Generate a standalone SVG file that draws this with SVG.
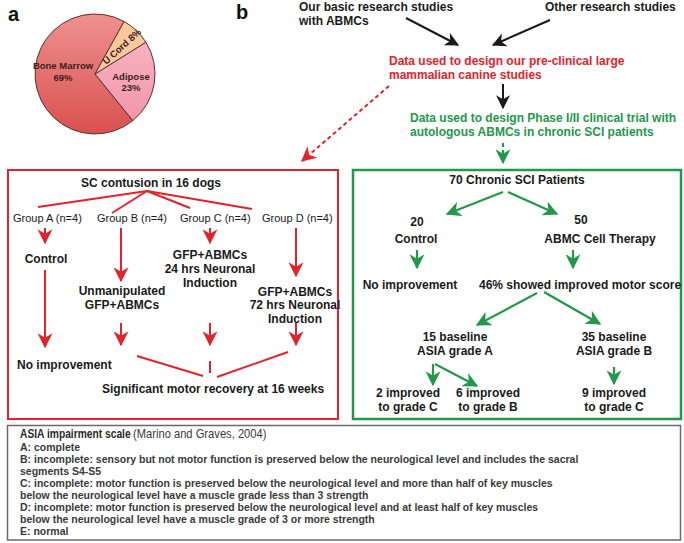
<svg xmlns="http://www.w3.org/2000/svg" width="684" height="543" viewBox="0 0 684 543">
<defs>
<linearGradient id="gMarrow" x1="0" y1="0" x2="0" y2="1">
<stop offset="0" stop-color="#ef9090"/>
<stop offset="1" stop-color="#d9514f"/>
</linearGradient>
<linearGradient id="gAdipose" x1="0" y1="0" x2="0" y2="1">
<stop offset="0" stop-color="#f7b2c0"/>
<stop offset="1" stop-color="#f297a8"/>
</linearGradient>
<marker id="mBlack" viewBox="0 0 12 12" markerUnits="userSpaceOnUse" markerWidth="14" markerHeight="14" refX="11" refY="6" orient="auto">
<path d="M0,0 L12,6 L0,12 L3.5,6 Z" fill="#1a1a1a"/>
</marker>
<marker id="mRed" viewBox="0 0 12 12" markerUnits="userSpaceOnUse" markerWidth="15" markerHeight="15" refX="11" refY="6" orient="auto">
<path d="M0,0 L12,6 L0,12 L3.5,6 Z" fill="#e3232b"/>
</marker>
<marker id="mGreen" viewBox="0 0 12 12" markerUnits="userSpaceOnUse" markerWidth="15" markerHeight="15" refX="11" refY="6" orient="auto">
<path d="M0,0 L12,6 L0,12 L3.5,6 Z" fill="#23984a"/>
</marker>
</defs>
<style>
text{font-family:"Liberation Sans",Arial,sans-serif;}
.b{font-weight:bold;font-size:12px;fill:#1a1a1a;}
.r{font-size:11px;fill:#1a1a1a;}
.red{font-weight:bold;font-size:12px;fill:#e3232b;}
.grn{font-weight:bold;font-size:12px;fill:#23984a;}
.m{text-anchor:middle;}
.pl{font-weight:bold;font-size:9.5px;fill:#3b1f1f;}
.bt{font-weight:bold;font-size:10.5px;fill:#3a3a3a;}
.lr{stroke:#e3232b;stroke-width:2;fill:none;}
.lg{stroke:#23984a;stroke-width:2.2;fill:none;}
.lk{stroke:#1a1a1a;stroke-width:2;fill:none;}
</style>

<g id="panel-a">
<text x="8" y="21" style="font-weight:bold;font-size:20px;fill:#111;">a</text>
<path d="M95,74 L132.8,120.6 A60,60 0 1,1 124.1,21.5 Z" fill="url(#gMarrow)" stroke="#5a3030" stroke-width="1"/>
<path d="M95,74 L145.9,42.2 A60,60 0 0,1 132.8,120.6 Z" fill="url(#gAdipose)" stroke="#5a3030" stroke-width="1"/>
<path d="M95,74 L124.1,21.5 A60,60 0 0,1 145.9,42.2 Z" fill="#f9c99c" stroke="#5a3030" stroke-width="1"/>
<text class="pl m" x="63" y="69">Bone Marrow</text>
<text class="pl m" x="63" y="81">69%</text>
<text class="pl m" x="131" y="80">Adipose</text>
<text class="pl m" x="131" y="91">23%</text>
<text class="pl m" x="0" y="0" transform="translate(124,49) rotate(-42)">U Cord 8%</text>
</g>

<g id="panel-b-header">
<text x="236" y="19" style="font-weight:bold;font-size:20px;fill:#111;">b</text>
<g id="basic-studies">
<text class="b" x="299" y="11">Our basic research studies</text>
<text class="b" x="299" y="25">with ABMCs</text>
</g>
<g id="other-studies">
<text class="b" x="545" y="11">Other research studies</text>
</g>
<g id="canine-design">
<text class="red" x="389" y="65">Data used to design our pre-clinical large</text>
<text class="red" x="389" y="79">mammalian canine studies</text>
</g>
<g id="clinical-design">
<text class="grn" x="410" y="122">Data used to design Phase I/II clinical trial with</text>
<text class="grn" x="410" y="136">autologous ABMCs in chronic SCI patients</text>
</g>
</g>

<g id="connectors">
<line class="lk" x1="406" y1="18" x2="458" y2="45" marker-end="url(#mBlack)"/>
<line class="lk" x1="550" y1="20" x2="493" y2="45" marker-end="url(#mBlack)"/>
<line class="lk" x1="503" y1="84" x2="503" y2="108" marker-end="url(#mBlack)"/>
<line class="lr" x1="389" y1="86" x2="302" y2="161" stroke-dasharray="4 3" marker-end="url(#mRed)"/>
<line class="lg" x1="503" y1="143" x2="503" y2="163" stroke-dasharray="4 3" marker-end="url(#mGreen)"/>

<line class="lr" x1="147" y1="191" x2="38" y2="207"/>
<line class="lr" x1="147" y1="191" x2="112" y2="213"/>
<line class="lr" x1="147" y1="191" x2="190" y2="208"/>
<line class="lr" x1="147" y1="191" x2="252" y2="209"/>
<line class="lr" x1="45" y1="228" x2="45" y2="243" marker-end="url(#mRed)"/>
<line class="lr" x1="45" y1="270" x2="45" y2="347" marker-end="url(#mRed)"/>
<line class="lr" x1="121" y1="228" x2="121" y2="281" marker-end="url(#mRed)"/>
<line class="lr" x1="210" y1="228" x2="210" y2="243" marker-end="url(#mRed)"/>
<line class="lr" x1="296" y1="228" x2="296" y2="276" marker-end="url(#mRed)"/>
<line class="lr" x1="121" y1="323" x2="121" y2="345" marker-end="url(#mRed)"/>
<line class="lr" x1="210" y1="323" x2="210" y2="345" marker-end="url(#mRed)"/>
<line class="lr" x1="296" y1="322" x2="296" y2="345" marker-end="url(#mRed)"/>
<line class="lr" x1="137" y1="356" x2="203" y2="376"/>
<line class="lr" x1="210" y1="361" x2="210" y2="373"/>
<line class="lr" x1="288" y1="352" x2="217" y2="377"/>

<line class="lg" x1="503" y1="192" x2="447" y2="214" marker-end="url(#mGreen)"/>
<line class="lg" x1="508" y1="192" x2="557" y2="214" marker-end="url(#mGreen)"/>
<line class="lg" x1="417" y1="250" x2="417" y2="268" marker-end="url(#mGreen)"/>
<line class="lg" x1="573" y1="250" x2="573" y2="268" marker-end="url(#mGreen)"/>
<line class="lg" x1="537" y1="293" x2="477" y2="325" marker-end="url(#mGreen)"/>
<line class="lg" x1="544" y1="292" x2="600" y2="324" marker-end="url(#mGreen)"/>
<line class="lg" x1="433" y1="364" x2="433" y2="385" marker-end="url(#mGreen)"/>
<line class="lg" x1="435" y1="364" x2="477" y2="386" marker-end="url(#mGreen)"/>
<line class="lg" x1="614" y1="367" x2="614" y2="384" marker-end="url(#mGreen)"/>
</g>

<g id="canine-box">
<rect x="8" y="170" width="330" height="249" fill="none" stroke="#e3232b" stroke-width="2"/>
<g id="sc-contusion"><text class="b m" x="151" y="187">SC contusion in 16 dogs</text></g>
<g id="group-a"><text class="r" x="13" y="222">Group A (n=4)</text></g>
<g id="group-b"><text class="r" x="97" y="222">Group B (n=4)</text></g>
<g id="group-c"><text class="r" x="180" y="222">Group C (n=4)</text></g>
<g id="group-d"><text class="r" x="262" y="222">Group D (n=4)</text></g>
<g id="control-a"><text class="b m" x="46" y="263">Control</text></g>
<g id="unmanipulated"><text class="b m" x="122" y="295">Unmanipulated</text><text class="b m" x="122" y="309">GFP+ABMCs</text></g>
<g id="gfp-24"><text class="b m" x="210" y="259">GFP+ABMCs</text><text class="b m" x="210" y="273">24 hrs Neuronal</text><text class="b m" x="210" y="287">Induction</text></g>
<g id="gfp-72"><text class="b m" x="295" y="296">GFP+ABMCs</text><text class="b m" x="295" y="309">72 hrs Neuronal</text><text class="b m" x="295" y="323">Induction</text></g>
<g id="no-improvement-a"><text class="b" x="17" y="369">No improvement</text></g>
<g id="significant"><text class="b" x="102" y="393">Significant motor recovery at 16 weeks</text></g>
</g>

<g id="clinical-box">
<rect x="353" y="170" width="328" height="249" fill="none" stroke="#23984a" stroke-width="2.5"/>
<g id="patients70"><text class="b m" x="517" y="184">70 Chronic SCI Patients</text></g>
<g id="control20"><text class="b m" x="417" y="226">20</text><text class="b m" x="416" y="243">Control</text></g>
<g id="therapy50"><text class="b m" x="581" y="224">50</text><text class="b m" x="600" y="243">ABMC Cell Therapy</text></g>
<g id="no-improvement-c"><text class="b m" x="410" y="289">No improvement</text></g>
<g id="improved46"><text class="b" x="479" y="289">46% showed improved motor score</text></g>
<g id="grade-a15"><text class="b m" x="455" y="341">15 baseline</text><text class="b m" x="455" y="355">ASIA grade A</text></g>
<g id="grade-b35"><text class="b m" x="614" y="341">35 baseline</text><text class="b m" x="614" y="355">ASIA grade B</text></g>
<g id="improved2"><text class="b m" x="408" y="397">2 improved</text><text class="b m" x="408" y="411">to grade C</text></g>
<g id="improved6"><text class="b m" x="488" y="397">6 improved</text><text class="b m" x="488" y="411">to grade B</text></g>
<g id="improved9"><text class="b m" x="614" y="397">9 improved</text><text class="b m" x="614" y="411">to grade C</text></g>
</g>

<g id="asia-box">
<rect x="7.5" y="425.5" width="673" height="114.5" fill="#fff" stroke="#6a6a6a" stroke-width="1.5"/>
<text x="0" y="0" transform="translate(20,438) scale(0.76,1)" style="font-weight:bold;font-size:13.5px;fill:#2a2a2a;">ASIA impairment scale</text>
<text x="0" y="0" transform="translate(133,438) scale(0.86,1)" style="font-size:13px;fill:#3a3a3a;">(Marino and Graves, 2004)</text>
<text class="bt" x="20" y="451">A: complete</text>
<text class="bt" x="20" y="463">B: incomplete: sensory but not motor function is preserved below the neurological level and includes the sacral</text>
<text class="bt" x="20" y="475">segments S4-S5</text>
<text class="bt" x="20" y="487">C: incomplete: motor function is preserved below the neurological level and more than half of key muscles</text>
<text class="bt" x="20" y="499">below the neurological level have a muscle grade less than 3 strength</text>
<text class="bt" x="20" y="511">D: incomplete: motor function is preserved below the neurological level and at least half of key muscles</text>
<text class="bt" x="20" y="523">below the neurological level have a muscle grade of 3 or more strength</text>
<text class="bt" x="20" y="535">E: normal</text>
</g>
</svg>
